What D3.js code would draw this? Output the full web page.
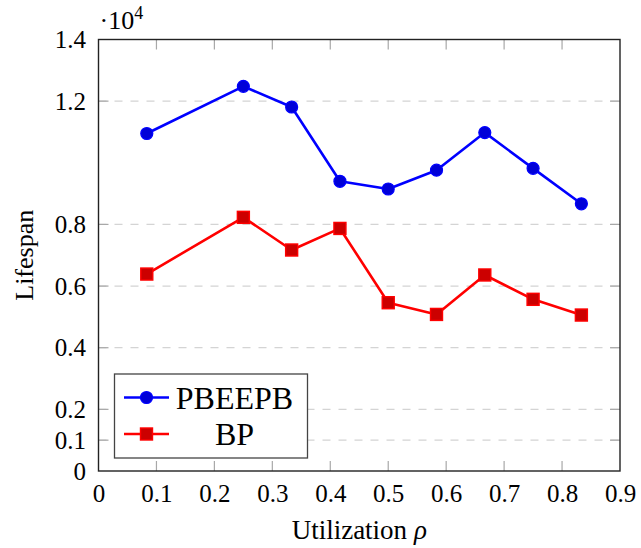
<!DOCTYPE html>
<html>
<head>
<meta charset="utf-8">
<script src="https://cdn.jsdelivr.net/npm/d3@7"></script>
<style>
  body { margin: 0; background: #fff; }
  text { font-family: "Liberation Serif", "Times New Roman", serif; }
</style>
</head>
<body>
<div id="chart"></div>
<script>
// data (lifespan in units of 10^4)
var utilization = [1/12, 3/12, 4/12, 5/12, 6/12, 7/12, 8/12, 9/12, 10/12];
var pbeepb = [1.095, 1.248, 1.181, 0.940, 0.915, 0.976, 1.098, 0.982, 0.867];
var bp = [0.639, 0.823, 0.717, 0.787, 0.546, 0.508, 0.636, 0.557, 0.506];
var xTicks = [0, 0.1, 0.2, 0.3, 0.4, 0.5, 0.6, 0.7, 0.8, 0.9];
var yTicks = [0, 0.1, 0.2, 0.4, 0.6, 0.8, 1.2, 1.4];
var seriesNames = ["PBEEPB", "BP"];

var width = 641, height = 548;
var margin = {top: 39.5, right: 21, bottom: 77, left: 98.5};

var svg = d3.select("#chart").append("svg")
    .attr("width", width)
    .attr("height", height);

var x = d3.scaleLinear().domain([0, 0.9]).range([margin.left, width - margin.right]);
var y = d3.scaleLinear().domain([0, 1.4]).range([height - margin.bottom, margin.top]);

// dashed grid lines
svg.append("g")
  .selectAll("line")
  .data(yTicks.filter(d => d > 0 && d < 1.4))
  .join("line")
    .attr("x1", x(0)).attr("x2", x(0.9))
    .attr("y1", d => y(d)).attr("y2", d => y(d))
    .attr("stroke", "#d4d4d4")
    .attr("stroke-width", 1.2)
    .attr("stroke-dasharray", "8,8");

// inner tick marks on all four sides
var tickLen = 10;
var tickG = svg.append("g").attr("stroke", "#a8a8a8").attr("stroke-width", 1.2);
xTicks.filter(d => d > 0 && d < 0.9).forEach(function(d) {
  tickG.append("line").attr("x1", x(d)).attr("x2", x(d)).attr("y1", y(0)).attr("y2", y(0) - tickLen);
  tickG.append("line").attr("x1", x(d)).attr("x2", x(d)).attr("y1", y(1.4)).attr("y2", y(1.4) + tickLen);
});
yTicks.filter(d => d > 0 && d < 1.4).forEach(function(d) {
  tickG.append("line").attr("x1", x(0)).attr("x2", x(0) + tickLen).attr("y1", y(d)).attr("y2", y(d));
  tickG.append("line").attr("x1", x(0.9)).attr("x2", x(0.9) - tickLen).attr("y1", y(d)).attr("y2", y(d));
});

// axes (labels only, frame drawn separately)
var xAxis = d3.axisBottom(x).tickValues(xTicks).tickSize(0).tickPadding(13)
    .tickFormat(d => d === 0 ? "0" : d3.format(".1f")(d));
svg.append("g")
    .attr("transform", `translate(0,${y(0)})`)
    .attr("font-family", null)
    .call(xAxis)
    .call(g => g.select(".domain").remove())
    .selectAll("text")
    .attr("font-size", 25)
    .attr("fill", "#000");

var yAxis = d3.axisLeft(y).tickValues(yTicks).tickSize(0).tickPadding(12.5)
    .tickFormat(d => d === 0 ? "0" : d3.format(".1f")(d));
svg.append("g")
    .attr("transform", `translate(${x(0)},0)`)
    .call(yAxis)
    .call(g => g.select(".domain").remove())
    .selectAll("text")
    .attr("font-size", 25)
    .attr("fill", "#000");

// frame
svg.append("rect")
    .attr("x", x(0)).attr("y", y(1.4))
    .attr("width", x(0.9) - x(0)).attr("height", y(0) - y(1.4))
    .attr("fill", "none")
    .attr("stroke", "#222")
    .attr("stroke-width", 1.4);

// exponent label
var expo = svg.append("text").attr("x", x(0) + 1).attr("y", 29).attr("font-size", 26);
expo.append("tspan").text("·10");
expo.append("tspan").attr("font-size", 18).attr("dy", -10).text("4");

// axis titles
svg.append("text")
    .attr("transform", `translate(33,${(y(0) + y(1.4)) / 2}) rotate(-90)`)
    .attr("text-anchor", "middle")
    .attr("font-size", 26)
    .text("Lifespan");

var xt = svg.append("text")
    .attr("x", (x(0) + x(0.9)) / 2)
    .attr("y", 539)
    .attr("text-anchor", "middle")
    .attr("font-size", 27);
xt.append("tspan").text("Utilization ");
xt.append("tspan").attr("font-style", "italic").text("ρ");

// series
var line = d3.line().x(d => x(d[0])).y(d => y(d[1]));
var blueData = d3.zip(utilization, pbeepb);
var redData = d3.zip(utilization, bp);

svg.append("path").datum(blueData)
    .attr("d", line).attr("fill", "none")
    .attr("stroke", "#0000ff").attr("stroke-width", 2.6).attr("stroke-linejoin", "round");
svg.append("g").selectAll("circle").data(blueData).join("circle")
    .attr("cx", d => x(d[0])).attr("cy", d => y(d[1])).attr("r", 6)
    .attr("fill", "#0000d8").attr("stroke", "#0000ff").attr("stroke-width", 1.2);

svg.append("path").datum(redData)
    .attr("d", line).attr("fill", "none")
    .attr("stroke", "#ff0000").attr("stroke-width", 2.6).attr("stroke-linejoin", "round");
svg.append("g").selectAll("rect").data(redData).join("rect")
    .attr("x", d => x(d[0]) - 6).attr("y", d => y(d[1]) - 6)
    .attr("width", 12).attr("height", 12)
    .attr("fill", "#cc0000").attr("stroke", "#ff0000").attr("stroke-width", 1.4);

// legend
var lg = svg.append("g").attr("transform", "translate(114.5,374)");
lg.append("rect").attr("width", 193).attr("height", 84)
    .attr("fill", "#fff").attr("stroke", "#444").attr("stroke-width", 1.3);
var rows = [23.5, 60];
lg.append("line").attr("x1", 9.5).attr("x2", 54.5).attr("y1", rows[0]).attr("y2", rows[0])
    .attr("stroke", "#0000ff").attr("stroke-width", 2.6);
lg.append("circle").attr("cx", 32).attr("cy", rows[0]).attr("r", 6)
    .attr("fill", "#0000d8").attr("stroke", "#0000ff").attr("stroke-width", 1.2);
lg.append("line").attr("x1", 9.5).attr("x2", 54.5).attr("y1", rows[1]).attr("y2", rows[1])
    .attr("stroke", "#ff0000").attr("stroke-width", 2.6);
lg.append("rect").attr("x", 26).attr("y", rows[1] - 6).attr("width", 12).attr("height", 12)
    .attr("fill", "#cc0000").attr("stroke", "#ff0000").attr("stroke-width", 1.4);
seriesNames.forEach(function(name, i) {
  lg.append("text")
      .attr("x", 120).attr("y", rows[i] + 11)
      .attr("text-anchor", "middle")
      .attr("font-size", 32)
      .text(name);
});
</script>
</body>
</html>
